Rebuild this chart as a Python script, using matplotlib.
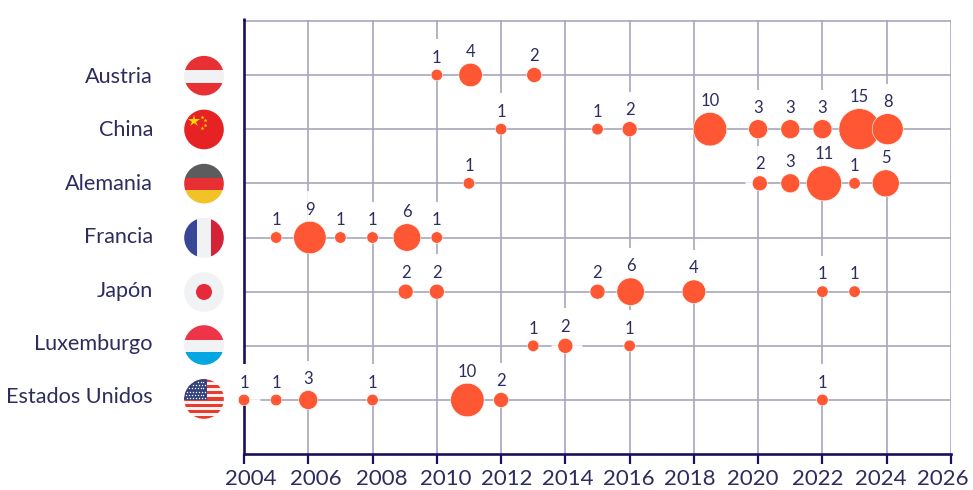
import numpy as np
import matplotlib
matplotlib.use("Agg")
import matplotlib.pyplot as plt
from matplotlib.patches import Circle, Rectangle

plt.rcParams['font.family'] = ['Lato', 'DejaVu Sans']

# --- datos ---
paises = ['Estados Unidos', 'Luxemburgo', 'Japón', 'Francia', 'Alemania', 'China', 'Austria']

anios_us = [2004, 2005, 2006, 2008, 2010.95, 2012, 2022]
vals_us = [1, 1, 3, 1, 10, 2, 1]
anios_lu = [2013, 2014, 2016]
vals_lu = [1, 2, 1]
anios_jp = [2009.03, 2010, 2015, 2016.03, 2018, 2022, 2023]
vals_jp = [2, 2, 2, 6, 4, 1, 1]
anios_fr = [2005, 2006.05, 2007, 2008, 2009.07, 2010]
vals_fr = [1, 9, 1, 1, 6, 1]
anios_de = [2011, 2020.05, 2021, 2022.05, 2023, 2023.97]
vals_de = [1, 2, 3, 11, 1, 5]
anios_cn = [2012, 2015, 2016, 2018.5, 2020, 2021, 2022, 2023.15, 2024.03]
vals_cn = [1, 1, 2, 10, 3, 3, 3, 15, 8]
anios_at = [2010, 2011.05, 2013.03]
vals_at = [1, 4, 2]

filas = [(anios_us, vals_us), (anios_lu, vals_lu), (anios_jp, vals_jp), (anios_fr, vals_fr),
         (anios_de, vals_de), (anios_cn, vals_cn), (anios_at, vals_at)]

ticks_x = list(range(2004, 2027, 2))
# las etiquetas del eje no caen justo bajo su marca (pixeles)
desv_ticks = [7, 8, 9, 9, 5.5, 2, -1, -4, -5, -5, -6, -8]

# diametro del circulo en pixeles segun el valor
diametros = {1: 11.5, 2: 15, 3: 19, 4: 23.5, 5: 27, 6: 27.5, 8: 31, 9: 32.5, 10: 33.5, 11: 35, 15: 41}

# tramos de la rejilla horizontal tapados en el original (fila, desde, hasta)
cortes = [(0, 2004.15, 2004.5), (1, 2013.55, 2014.52), (4, 2019.6, 2020.0)]

AZUL = '#1c0f5c'
TEXTO = '#2e2c5e'
GRIS = '#a8a6ba'
NARANJA = '#ff5733'

W, H = 973, 490
fig = plt.figure(figsize=(W / 100, H / 100), dpi=100)

# eje principal, colocado en pixeles
x0, x1, y_top, y_bot = 244, 951, 20.5, 453.5
ax = fig.add_axes([x0 / W, 1 - y_bot / H, (x1 - x0) / W, (y_bot - y_top) / H])
ax.set_xlim(2004, 2026)
paso = (400 - 75) / 6
ax.set_ylim(-(y_bot - 400) / paso, (400 - y_top) / paso)

ax.set_xticks(ticks_x)
ax.set_xticklabels([])
ax.set_yticks(range(len(paises) + 1))
ax.set_yticklabels([])
ax.grid(True, color=GRIS, lw=1.2, zorder=1)
ax.set_axisbelow(True)
ax.tick_params(axis='x', length=7, width=1.6, color=AZUL)
ax.tick_params(axis='y', length=0)
for lado in ['top', 'right']:
    ax.spines[lado].set_visible(False)
for lado in ['left', 'bottom']:
    ax.spines[lado].set_color(AZUL)
    ax.spines[lado].set_linewidth(1.9)
ax.plot([2004, 2004], [7, 7.05], color=AZUL, lw=1.9, clip_on=False, solid_capstyle='butt')

for fila, a0, a1 in cortes:
    ax.plot([a0, a1], [fila, fila], color='white', lw=1.8, zorder=3, solid_capstyle='butt')

for t, dx in zip(ticks_x, desv_ticks):
    ax.annotate(str(t), (t, 0), xycoords=('data', 'axes fraction'), xytext=(dx * 0.72, -18),
                textcoords='offset points', ha='center', va='center', fontsize=16, color=TEXTO,
                annotation_clip=False)

for i, (anios, vals) in enumerate(filas):
    d = np.array([diametros[v] for v in vals], dtype=float)
    ax.scatter(anios, [i] * len(anios), s=(d * 0.72) ** 2, color=NARANJA, edgecolors='white',
               linewidths=0.4, zorder=4, clip_on=False)
    for a, v, di in zip(anios, vals, d):
        # hueco blanco en la rejilla vertical detras de la etiqueta
        ax.plot([a, a], [i, i + (di / 2 + 30) / paso], color='white', lw=4, zorder=3,
                solid_capstyle='butt', clip_on=False)
        ax.annotate(str(v), (a, i), xytext=(0, (di / 2 + 6.5) * 0.72), textcoords='offset points',
                    ha='center', va='baseline', fontsize=12, color=TEXTO, zorder=5,
                    annotation_clip=False)
    # nombre del pais
    fig.text(153 / W, 1 - (77 + (6 - i) * 53.4) / H, paises[i], ha='right', va='center',
             fontsize=15.6, color=TEXTO)

# banderas
flags = fig.add_axes([0, 0, 1, 1], facecolor='none')
flags.set_xlim(0, W)
flags.set_ylim(H, 0)
flags.axis('off')

def bandera(cy, franjas=None, verticales=None):
    circ = Circle((204, cy), 19.8, fc='#f1f2f4', ec='none')
    flags.add_patch(circ)
    if franjas:
        for y_a, y_b, c in franjas:
            r = Rectangle((180, cy + y_a), 48, y_b - y_a, fc=c, ec='none')
            flags.add_patch(r)
            r.set_clip_path(circ)
    if verticales:
        for x_a, x_b, c in verticales:
            r = Rectangle((204 + x_a, cy - 24), x_b - x_a, 48, fc=c, ec='none')
            flags.add_patch(r)
            r.set_clip_path(circ)
    return circ

filas_y = {p: 75 + k * paso for k, p in enumerate(paises[::-1])}

bandera(filas_y['Austria'] + 0.7, [(-21, -5.7, '#e83034'), (-5.7, 7, '#f1f2f4'), (7, 21, '#e83034')])

cy = filas_y['China'] + 0.3
bandera(cy, [(-21, 21, '#e62225')])
flags.plot(194, cy - 8, marker='*', ms=9, color='#ffd800', mew=0)
for dx, dy in [(-2, -12), (1, -9), (1, -4), (-2, -1)]:
    flags.plot(204 + dx, cy + dy, marker='*', ms=3, color='#ffd800', mew=0)

bandera(filas_y['Alemania'] + 0.3, [(-21, -5.6, '#5c5c5e'), (-5.6, 6.7, '#e83034'), (6.7, 21, '#f2c227')])
bandera(filas_y['Francia'] + 0.3, verticales=[(-21, -7.3, '#374696'), (-7.3, 7, '#f1f2f4'), (7, 21, '#d62236')])

cy = filas_y['Japón'] + 0.3
bandera(cy)
flags.add_patch(Circle((204, cy), 8, fc='#e62a3c', ec='none'))

bandera(filas_y['Luxemburgo'] - 0.8, [(-21, -5, '#ee3448'), (-5, 7, '#f1f2f4'), (7, 21, '#04a5e3')])

cy = filas_y['Estados Unidos'] - 1
circ = bandera(cy)
for k in range(13):
    if k % 2 == 0:
        r = Rectangle((180, cy - 20 + k * 3.08), 48, 3.08, fc='#ea3a2c', ec='none')
        flags.add_patch(r)
        r.set_clip_path(circ)
r = Rectangle((180, cy - 20), 26.7, 21, fc='#34427f', ec='none')
flags.add_patch(r)
r.set_clip_path(circ)
for fila in range(6):
    for col in range(8):
        px, py = 186 + col * 2.9 + (fila % 2) * 1.4, cy - 17 + fila * 3.2
        if (px - 204) ** 2 + (py - cy) ** 2 < 18.5 ** 2 and px < 206:
            flags.plot(px, py, marker='o', ms=1, color='white', mew=0)

fig.savefig('out.png', dpi=100, facecolor='white')
